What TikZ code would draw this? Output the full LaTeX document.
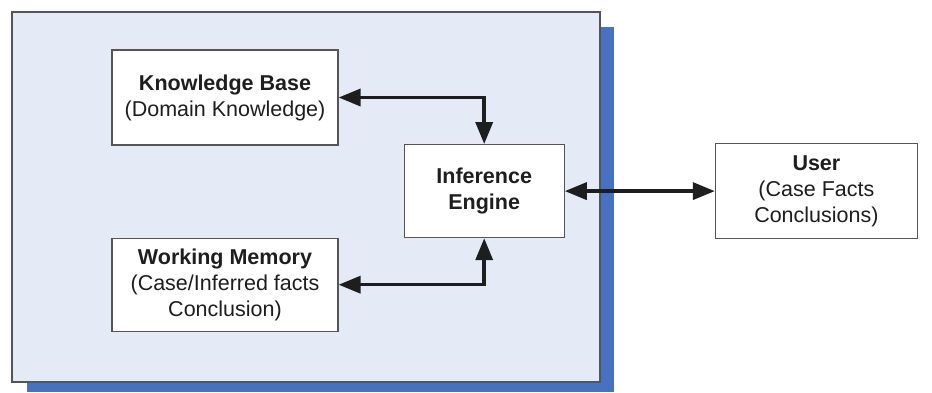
\documentclass[tikz,border=0pt]{standalone}
\usepackage{fontspec}
\setmainfont{Liberation Sans}
\usetikzlibrary{positioning,calc,arrows.meta}
\definecolor{panelfill}{RGB}{228,234,246}
\definecolor{shadowblue}{RGB}{70,114,193}
\definecolor{boxline}{RGB}{85,85,85}
\definecolor{textgray}{RGB}{30,30,30}

\begin{document}
\begin{tikzpicture}[x=1pt,y=-1pt,node distance=92pt]
    \tikzstyle{entity} = [rectangle, draw=boxline, line width=1.2pt, fill=white, text=textgray, align=center, font=\fontsize{21.5}{26}\selectfont]
    \tikzstyle{link} = [line width=3.5pt, textgray, {Triangle[length=22pt,width=17pt]}-{Triangle[length=22pt,width=17pt]}]

    \useasboundingbox (0,0) rectangle (932,392);

    % System panel with its shadow
    \fill[shadowblue] (27,27) rectangle (614,392);
    \draw[boxline, line width=1.2pt, fill=panelfill] (12,12) rectangle (600,382);

    % Knowledge base
    \node[entity, minimum width=226pt, minimum height=95pt] (kb) at (225,97.5) {
        \textbf{Knowledge Base}\\
        (Domain Knowledge)
    };

    % Working memory
    \node[entity, minimum width=226pt, minimum height=93pt, below=92pt of kb] (wm) {
        \textbf{Working Memory}\\
        (Case/Inferred facts\\
        Conclusion)
    };

    % Inference engine
    \node[entity, minimum width=160pt, minimum height=93pt, right=65pt of {$(kb.east)!0.5!(wm.east)$}] (ie) {
        \textbf{Inference}\\
        \textbf{Engine}
    };

    % User
    \node[entity, minimum width=202pt, minimum height=95pt, right=150pt of ie] (user) {
        \textbf{User}\\
        (Case Facts\\
        Conclusions)
    };

    \draw[link] (kb.east) -| (ie.north);
    \draw[link] (wm.east) -| (ie.south);
    \draw[link] (ie.east) -- (user.west);

\end{tikzpicture}
\end{document}
